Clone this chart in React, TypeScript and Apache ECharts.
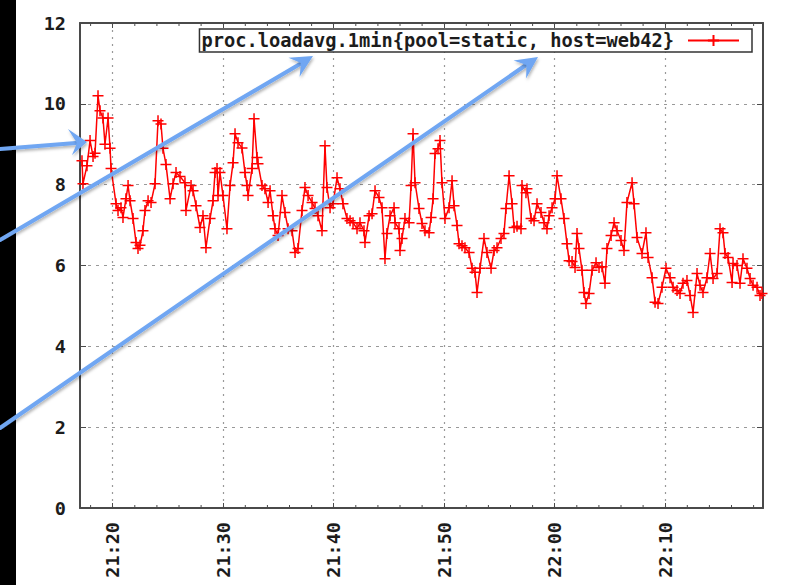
import React, { useEffect, useRef } from "react";
import * as echarts from "echarts";

// minutes after 21:00
const minutes = [
  17.22, 17.31, 17.67, 17.95, 18.22, 18.4, 18.67, 18.85, 19.12, 19.3, 19.58, 19.76, 19.85,
  20.3, 20.48, 20.75, 20.93, 21.2, 21.39, 21.57, 21.84, 22.11, 22.29, 22.47, 22.74, 22.92,
  23.2, 23.47, 23.83, 24.1, 24.37, 24.55, 24.82, 25.19, 25.46, 25.73, 26.09, 26.54, 26.63,
  27.09, 27.27, 27.54, 27.9, 28.17, 28.44, 28.81, 29.08, 29.26, 29.44, 29.53, 29.71, 29.98,
  30.34, 30.62, 30.89, 31.07, 31.34, 31.7, 31.97, 32.15, 32.25, 32.61, 32.79, 33.06, 33.15,
  33.51, 33.78, 34.06, 34.24, 34.51, 34.69, 34.96, 35.32, 35.59, 35.87, 36.23, 36.5, 36.77,
  37.13, 37.4, 37.68, 38.04, 38.31, 38.58, 38.94, 39.21, 39.39, 39.67, 39.94, 40.3, 40.57,
  40.84, 41.2, 41.48, 41.75, 42.11, 42.38, 42.74, 42.83, 43.2, 43.47, 43.74, 44.1, 44.37,
  44.64, 44.82, 45.1, 45.46, 45.55, 45.91, 46.0, 46.18, 46.45, 46.82, 47.0, 47.18, 47.36,
  47.72, 47.99, 48.26, 48.63, 48.81, 48.99, 49.17, 49.44, 49.62, 49.8, 50.07, 50.44, 50.71,
  50.89, 51.16, 51.34, 51.61, 51.88, 52.25, 52.52, 52.79, 52.97, 53.24, 53.6, 53.87, 54.24,
  54.51, 54.78, 55.14, 55.41, 55.59, 55.87, 56.14, 56.32, 56.59, 56.95, 57.04, 57.4, 57.49,
  57.86, 58.13, 58.4, 58.76, 59.03, 59.3, 59.49, 59.76, 60.03, 60.21, 60.57, 60.84, 61.11,
  61.3, 61.57, 61.84, 62.02, 62.2, 62.47, 62.65, 62.83, 63.11, 63.38, 63.74, 64.01, 64.28,
  64.55, 64.73, 65.1, 65.37, 65.64, 66.0, 66.27, 66.54, 67.0, 67.18, 67.45, 67.9, 68.26,
  68.45, 68.81, 69.08, 69.35, 69.71, 70.07, 70.44, 70.71, 71.07, 71.34, 71.61, 71.97, 72.25,
  72.52, 72.88, 73.15, 73.42, 73.78, 74.06, 74.33, 74.69, 74.96, 75.23, 75.41, 75.69, 76.05,
  76.14, 76.5, 76.77, 77.04, 77.4, 77.68, 77.95, 78.31, 78.58, 78.76,
];

const load1m = [
  8.59, 8.02, 8.47, 9.09, 8.7, 8.78, 10.2, 9.83, 9.65, 9.0, 9.65, 8.9, 8.4,
  7.53, 7.36, 7.43, 7.19, 7.65, 7.98, 7.6, 7.16, 6.57, 6.42, 6.5, 6.86, 7.36,
  7.6, 7.56, 8.02, 9.58, 9.5, 8.9, 8.5, 7.65, 8.02, 8.3, 8.2, 8.05, 7.36,
  7.98, 7.85, 7.48, 6.94, 7.23, 6.44, 7.16, 7.6, 8.3, 8.4, 7.73, 8.3, 7.73,
  6.91, 7.98, 8.54, 9.26, 9.04, 8.91, 8.3, 7.98, 7.73, 8.4, 9.63, 8.67, 8.52,
  7.98, 7.9, 7.56, 7.85, 7.23, 6.91, 6.74, 7.73, 7.31, 6.91, 6.86, 6.32, 6.42,
  7.36, 7.93, 7.73, 7.56, 7.41, 7.23, 6.86, 8.96, 7.93, 7.43, 7.53, 8.17, 7.9,
  7.53, 7.16, 7.11, 7.06, 6.91, 7.06, 6.86, 6.57, 7.23, 7.28, 7.85, 7.68, 7.43,
  6.17, 6.79, 7.23, 7.43, 7.06, 6.91, 6.37, 6.67, 7.16, 7.06, 7.98, 9.26, 8.05,
  7.41, 7.04, 6.86, 6.81, 7.19, 7.65, 8.77, 8.89, 9.09, 8.05, 7.16, 7.43, 8.1,
  7.48, 6.99, 6.54, 6.49, 6.44, 6.32, 5.93, 5.83, 5.33, 5.93, 6.67, 6.32, 5.93,
  6.37, 6.44, 6.67, 6.79, 7.41, 8.22, 7.53, 6.94, 6.97, 6.91, 7.98, 7.8, 7.9,
  7.16, 7.11, 7.53, 7.31, 7.06, 6.91, 7.23, 7.43, 7.65, 8.22, 7.65, 7.16, 6.54,
  6.12, 6.1, 5.95, 6.79, 6.42, 5.88, 5.33, 5.06, 5.31, 5.88, 6.07, 5.95, 5.97,
  5.56, 6.42, 6.74, 7.06, 6.86, 6.62, 6.37, 7.56, 8.05, 7.53, 6.69, 6.3, 6.81,
  6.2, 5.7, 5.09, 5.06, 5.46, 5.93, 5.7, 5.46, 5.38, 5.31, 5.56, 5.63, 5.26,
  4.84, 5.8, 5.51, 5.33, 5.7, 6.3, 5.68, 5.8, 6.91, 6.81, 6.3, 6.2, 5.58,
  6.05, 6.0, 5.56, 6.17, 5.93, 5.68, 5.51, 5.46, 5.26, 5.31,
];

const minorTickMinutes = [18, 22, 24, 26, 28, 32, 34, 36, 38, 42, 44, 46, 48, 52, 54, 56, 58, 62, 64, 66, 68, 72, 74, 76, 78];

const seriesName = "proc.loadavg.1min{pool=static, host=web42}";
const xMin = 17.04;
const xMax = 78.85;

const FONT = "DejaVu Sans Mono";
const TEXT = "#1c1c1c";
const AXIS = "#4a4a4a";
const BLUE = "#6fa6f2";
const PLUS = "path://M0 5 L10 5 M5 0 L5 10";

function fmtTime(v: number): string {
  if (Math.abs(v % 10) > 1e-6) return "";
  const h = 21 + Math.floor(v / 60);
  const m = Math.round(v % 60);
  return `${h}:${m < 10 ? "0" + m : m}`;
}

function arrowHead(tip: number[], wing1: number[], notch: number[], wing2: number[]) {
  return {
    type: "polygon",
    z: 100,
    shape: { points: [tip, wing1, notch, wing2] },
    style: {
      fill: BLUE,
      shadowColor: "rgba(0,0,0,0.3)",
      shadowBlur: 3,
      shadowOffsetX: 1,
      shadowOffsetY: 2,
    },
  };
}

function shaft(x1: number, y1: number, x2: number, y2: number) {
  return {
    type: "line",
    z: 100,
    shape: { x1, y1, x2, y2 },
    style: {
      stroke: BLUE,
      lineWidth: 4,
      lineCap: "round",
      shadowColor: "rgba(0,0,0,0.3)",
      shadowBlur: 3,
      shadowOffsetX: 1,
      shadowOffsetY: 2,
    },
  };
}

export default function App() {
  const ref = useRef<HTMLDivElement>(null);

  useEffect(() => {
    document.body.style.margin = "0";
    const chart = echarts.init(ref.current!, null, { renderer: "svg" });
    const data = minutes.map((m, i) => [m, load1m[i]]);

    const xCommon = {
      type: "value",
      min: xMin,
      max: xMax,
      minInterval: 10,
      maxInterval: 10,
      axisLine: { show: true, onZero: false, lineStyle: { color: AXIS, width: 2 } },
      axisTick: { show: true, inside: true, length: 5, lineStyle: { color: AXIS, width: 1 } },
    };

    chart.setOption({
      animation: false,
      backgroundColor: "#ffffff",
      grid: { left: 80, top: 23, width: 683, height: 485, containLabel: false },
      legend: {
        data: [seriesName],
        right: 40,
        top: 29,
        align: "right",
        padding: [2, 12, 2, 2],
        itemWidth: 51,
        itemHeight: 14,
        backgroundColor: "#ffffff",
        borderColor: "#333333",
        borderWidth: 1.5,
        borderRadius: 0,
        textStyle: {
          fontFamily: FONT,
          fontWeight: "bold",
          fontSize: 18.7,
          color: TEXT,
          lineHeight: 16,
          padding: [0, 9, 0, 0],
        },
      },
      xAxis: [
        {
          ...xCommon,
          position: "bottom",
          axisLabel: {
            show: true,
            rotate: 90,
            margin: 14,
            showMinLabel: false,
            showMaxLabel: false,
            fontFamily: FONT,
            fontWeight: "bold",
            fontSize: 18.5,
            color: TEXT,
            formatter: (v: number) => fmtTime(v),
          },
          splitLine: {
            show: true,
            showMinLine: false,
            showMaxLine: false,
            lineStyle: { color: "#999999", width: 1.2, type: [2, 5] },
          },
        },
        {
          ...xCommon,
          position: "top",
          axisLabel: { show: false },
          splitLine: { show: false },
        },
      ],
      yAxis: [
        {
          type: "value",
          min: 0,
          max: 12,
          interval: 2,
          position: "left",
          axisLine: { show: true, onZero: false, lineStyle: { color: AXIS, width: 2 } },
          axisTick: { show: true, inside: true, length: 6, lineStyle: { color: AXIS, width: 1 } },
          axisLabel: {
            margin: 14,
            fontFamily: FONT,
            fontWeight: "bold",
            fontSize: 18.5,
            color: TEXT,
          },
          splitLine: {
            show: true,
            showMinLine: false,
            showMaxLine: false,
            lineStyle: { color: "#999999", width: 1.2, type: [3, 5] },
          },
        },
        {
          type: "value",
          min: 0,
          max: 12,
          interval: 2,
          position: "right",
          axisLine: { show: true, onZero: false, lineStyle: { color: AXIS, width: 2 } },
          axisTick: { show: true, inside: true, length: 6, lineStyle: { color: AXIS, width: 1 } },
          axisLabel: { show: false },
          splitLine: { show: false },
        },
      ],
      series: [
        {
          name: seriesName,
          type: "line",
          xAxisIndex: 0,
          yAxisIndex: 0,
          data,
          symbol: PLUS,
          symbolSize: 11,
          showAllSymbol: true,
          lineStyle: { color: "#ff0000", width: 1.5 },
          itemStyle: { color: "#ff0000", borderColor: "#ff0000", borderWidth: 1.5 },
          z: 5,
        },
        {
          name: "minorTicks",
          type: "custom",
          xAxisIndex: 0,
          yAxisIndex: 0,
          silent: true,
          clip: false,
          data: minorTickMinutes.map((m) => [m, 0]),
          renderItem: (params: any, api: any) => {
            const x = api.coord([api.value(0), 0])[0];
            const cs = params.coordSys;
            const top = cs.y;
            const bottom = cs.y + cs.height;
            return {
              type: "group",
              children: [
                { type: "line", shape: { x1: x, y1: bottom, x2: x, y2: bottom - 3 }, style: { stroke: AXIS, lineWidth: 1 } },
                { type: "line", shape: { x1: x, y1: top, x2: x, y2: top + 3 }, style: { stroke: AXIS, lineWidth: 1 } },
              ],
            };
          },
          z: 3,
        },
      ],
      graphic: [
        { type: "rect", z: 50, shape: { x: 0, y: 0, width: 16, height: 585 }, style: { fill: "#000000" } },
        shaft(0, 149, 76, 143),
        arrowHead([87, 142], [68, 129], [77, 143], [72, 155]),
        shaft(0, 240, 300, 64),
        arrowHead([313, 56], [288.5, 57.7], [301, 63], [299.6, 76.7]),
        shaft(0, 428, 526, 65),
        arrowHead([538, 57], [513.6, 60.4], [526.5, 65], [526.1, 78.6]),
      ],
    });

    return () => chart.dispose();
  }, []);

  return (
    <div
      ref={ref}
      style={{ position: "absolute", left: 0, top: 0, width: 792, height: 585 }}
    />
  );
}
